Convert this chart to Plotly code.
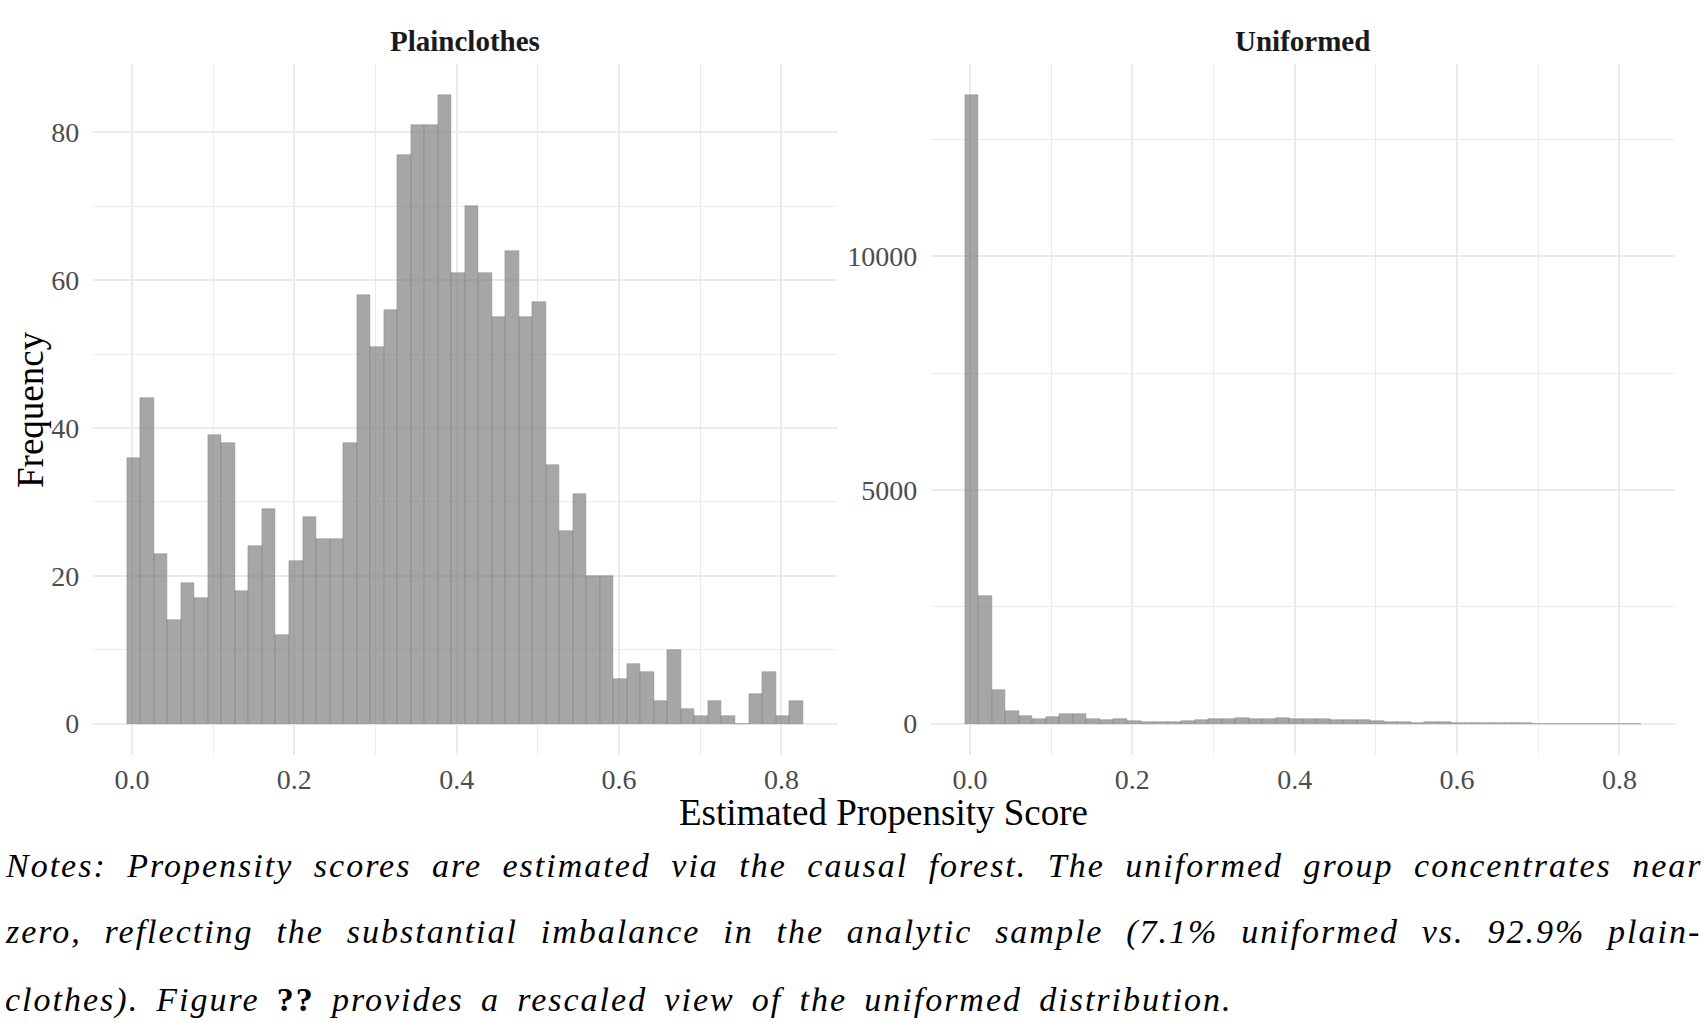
import plotly.graph_objects as go

# ---------------- data ----------------
BIN_FIRST_CENTER = 0.00217
BIN_WIDTH = 0.01665

plainclothes_counts = [36, 44, 23, 14, 19, 17, 39, 38, 18, 24,
                       29, 12, 22, 28, 25, 25, 38, 58, 51, 56,
                       77, 81, 81, 85, 61, 70, 61, 55, 64, 55,
                       57, 35, 26, 31, 20, 20, 6, 8, 7, 3,
                       10, 2, 1, 3, 1, 0, 4, 7, 1, 3]

uniformed_counts = [13440, 2720, 717, 265, 164, 105, 143, 207, 207, 93,
                    86, 93, 50, 36, 43, 36, 57, 80, 100, 100,
                    120, 95, 100, 128, 92, 105, 96, 75, 75, 85,
                    57, 36, 32, 21, 29, 25, 10, 17, 7, 4,
                    3, 3, 2, 2, 2, 1, 1, 1, 1, 1]

bin_centers = [BIN_FIRST_CENTER + BIN_WIDTH * i for i in range(len(plainclothes_counts))]

panel_titles = ["Plainclothes", "Uniformed"]
x_tick_vals = [0.0, 0.2, 0.4, 0.6, 0.8]
x_tick_text = ["0.0", "0.2", "0.4", "0.6", "0.8"]
x_minor_vals = [0.1, 0.3, 0.5, 0.7]
plain_y_ticks = [0, 20, 40, 60, 80]
plain_y_minor = [10, 30, 50, 70]
unif_y_ticks = [0, 5000, 10000]
unif_y_minor = [2500, 7500, 12500]
x_title = "Estimated Propensity Score"
y_title = "Frequency"

# ---------------- layout helpers ----------------
W, H = 1704, 1023
def px(x):
    return x / W
def py(y):
    return 1 - y / H

SERIF = "Liberation Serif"
TICK_FONT = dict(family=SERIF, size=28, color="#4d4d4d")
GRID = "#ebebeb"
BAR_FILL = "rgba(128,128,128,0.7)"
BAR_LINE = "rgba(128,128,128,0.7)"

x_range = [-0.0478, 0.868]
plain_max = max(plainclothes_counts)
unif_max = max(uniformed_counts)

fig = go.Figure()
fig.add_trace(go.Bar(x=bin_centers, y=plainclothes_counts, width=BIN_WIDTH,
                     marker=dict(color=BAR_FILL, line=dict(color=BAR_LINE, width=0.6)),
                     xaxis="x", yaxis="y", showlegend=False, hoverinfo="x+y"))
fig.add_trace(go.Bar(x=bin_centers, y=uniformed_counts, width=BIN_WIDTH,
                     marker=dict(color=BAR_FILL, line=dict(color=BAR_LINE, width=0.6)),
                     xaxis="x2", yaxis="y2", showlegend=False, hoverinfo="x+y"))

def xaxis_cfg(domain, anchor):
    return dict(domain=domain, anchor=anchor, range=x_range,
                tickvals=x_tick_vals, ticktext=x_tick_text, tickfont=TICK_FONT,
                showgrid=True, gridcolor=GRID, gridwidth=2,
                minor=dict(tickvals=x_minor_vals, showgrid=True, gridcolor=GRID, gridwidth=1),
                zeroline=False, showline=False, ticks="", ticklabelstandoff=5,
                fixedrange=True)

def yaxis_cfg(domain, anchor, rng, ticks, minor):
    return dict(domain=domain, anchor=anchor, range=rng,
                tickvals=ticks, ticktext=[str(t) for t in ticks], tickfont=TICK_FONT,
                showgrid=True, gridcolor=GRID, gridwidth=2,
                minor=dict(tickvals=minor, showgrid=True, gridcolor=GRID, gridwidth=1),
                zeroline=False, showline=False, ticks="", ticklabelstandoff=13,
                fixedrange=True)

y_dom = [py(755), py(64)]
left_dom = [px(93.2), px(836.6)]
right_dom = [px(931.2), px(1674.6)]

fig.update_layout(
    width=W, height=H,
    margin=dict(l=0, r=0, t=0, b=0),
    paper_bgcolor="white", plot_bgcolor="white",
    bargap=0,
    xaxis=xaxis_cfg(left_dom, "y"),
    yaxis=yaxis_cfg(y_dom, "x", [-0.05 * plain_max, 1.05 * plain_max], plain_y_ticks, plain_y_minor),
    xaxis2=xaxis_cfg(right_dom, "y2"),
    yaxis2=yaxis_cfg(y_dom, "x2", [-0.05 * unif_max, 1.05 * unif_max], unif_y_ticks, unif_y_minor),
)

annotations = []
# strip titles
for title, dom in zip(panel_titles, [left_dom, right_dom]):
    annotations.append(dict(text="<b>" + title + "</b>", x=(dom[0] + dom[1]) / 2, y=py(41),
                            xref="paper", yref="paper", xanchor="center", yanchor="middle",
                            showarrow=False, font=dict(family=SERIF, size=29, color="#1a1a1a")))
# axis titles
annotations.append(dict(text=x_title, x=px(883.5), y=py(812), xref="paper", yref="paper",
                        xanchor="center", yanchor="middle", showarrow=False,
                        font=dict(family=SERIF, size=37, color="black")))
annotations.append(dict(text=y_title, x=px(30), y=py(410), xref="paper", yref="paper",
                        xanchor="center", yanchor="middle", textangle=-90, showarrow=False,
                        font=dict(family=SERIF, size=37, color="black")))

# notes
LS = "letter-spacing:2px"
note_lines = [
    (f'<span style="{LS};word-spacing:10px">Notes: Propensity scores are estimated via the causal forest. '
     f'The uniformed group concentrates near</span>', 865),
    (f'<span style="{LS};word-spacing:12.3px">zero, reflecting the substantial imbalance in the analytic sample '
     f'(7.1% uniformed vs. 92.9% plain-</span>', 932),
    (f'<span style="{LS};word-spacing:6.7px">clothes). Figure </span>'
     f'<span style="font-weight:bold;font-style:normal;{LS}">??</span>'
     f'<span style="{LS};word-spacing:6.7px"> provides a rescaled view of the uniformed distribution.</span>', 1000),
]
for txt, yc in note_lines:
    annotations.append(dict(text=txt, x=px(3), y=py(yc), xref="paper", yref="paper",
                            xanchor="left", yanchor="middle", showarrow=False, align="left",
                            font=dict(family=SERIF, size=34, color="black", style="italic")))

fig.update_layout(annotations=annotations)
fig.write_html("out.html")
